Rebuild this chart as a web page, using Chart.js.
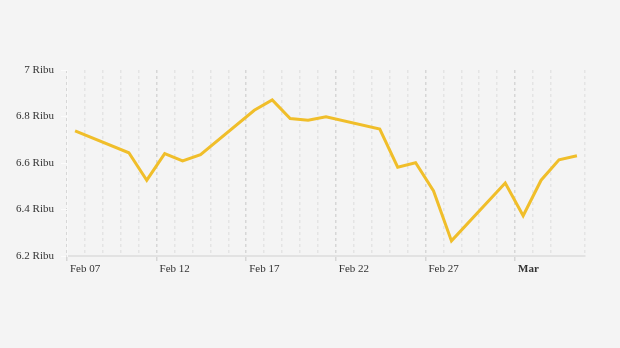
<!DOCTYPE html>
<html>
<head>
<meta charset="utf-8">
<script src="https://cdn.jsdelivr.net/npm/chart.js@4"></script>
<style>
  html, body { margin: 0; padding: 0; background: #f4f4f4; }
  #wrap { width: 620px; height: 348px; }
</style>
</head>
<body>
<div id="wrap"><canvas id="myChart"></canvas></div>
<script>
// trading days and closing price (in Ribu)
const dates = [
  "2025-02-07", "2025-02-10", "2025-02-11", "2025-02-12", "2025-02-13", "2025-02-14",
  "2025-02-17", "2025-02-18", "2025-02-19", "2025-02-20", "2025-02-21",
  "2025-02-24", "2025-02-25", "2025-02-26", "2025-02-27", "2025-02-28",
  "2025-03-03", "2025-03-04", "2025-03-05", "2025-03-06", "2025-03-07",
];
const prices = [
  6.738, 6.644, 6.526, 6.640, 6.609, 6.636,
  6.827, 6.871, 6.791, 6.784, 6.799,
  6.746, 6.582, 6.601, 6.480, 6.265,
  6.514, 6.373, 6.526, 6.614, 6.631,
];
const tickDays = [0, 5, 10, 15, 20, 25];
const tickLabels = ["Feb 07", "Feb 12", "Feb 17", "Feb 22", "Feb 27", "Mar"];
const majorLabel = "Mar";

const start = new Date(dates[0] + "T00:00:00Z");
const dayIndex = (d) => (new Date(d + "T00:00:00Z") - start) / 86400000;
const points = dates.map((d, i) => ({ x: dayIndex(d) + 0.45, y: prices[i] }));

const font = { family: "'Liberation Serif', 'Times New Roman', serif", size: 11 };

new Chart(document.getElementById("myChart"), {
  type: "line",
  data: {
    datasets: [
      {
        data: points,
        borderColor: "#f0be2a",
        borderWidth: 3,
        pointRadius: 0,
        tension: 0,
      },
    ],
  },
  options: {
    responsive: true,
    maintainAspectRatio: false,
    animation: false,
    layout: { padding: { top: 70, right: 35, bottom: 62, left: 0 } },
    plugins: { legend: { display: false }, tooltip: { enabled: false } },
    scales: {
      x: {
        type: "linear",
        min: 0,
        max: 28.9,
        afterFit: (s) => { s.height = 30; },
        border: { color: "#e2e2e2", width: 2, dash: [3, 3] },
        grid: {
          color: (c) => (c.tick && tickDays.includes(c.tick.value) ? "#d6d6d6" : "#e4e4e4"),
          tickColor: (c) => (c.tick && tickDays.includes(c.tick.value) ? "#d6d6d6" : "rgba(0,0,0,0)"),
          tickLength: 5,
          lineWidth: 1.5,
        },
        ticks: {
          stepSize: 1,
          autoSkip: false,
          maxRotation: 0,
          align: "start",
          labelOffset: 3,
          padding: 2,
          color: "#333",
          font: (c) => {
            const i = tickDays.indexOf(c.tick && c.tick.value);
            return i >= 0 && tickLabels[i] === majorLabel ? { ...font, weight: "bold" } : font;
          },
          callback: (v) => {
            const i = tickDays.indexOf(v);
            return i >= 0 ? tickLabels[i] : "";
          },
        },
      },
      y: {
        min: 6.2,
        max: 7,
        afterFit: (s) => { s.width = 67; },
        border: { color: "#f8f8f8", width: 1 },
        grid: { drawOnChartArea: false, tickLength: 6, tickColor: "#fbfbfb" },
        ticks: {
          stepSize: 0.2,
          padding: 7,
          color: "#333",
          font: font,
          callback: (v) => Number(v.toFixed(1)) + " Ribu",
        },
      },
    },
  },
});
</script>
</body>
</html>
